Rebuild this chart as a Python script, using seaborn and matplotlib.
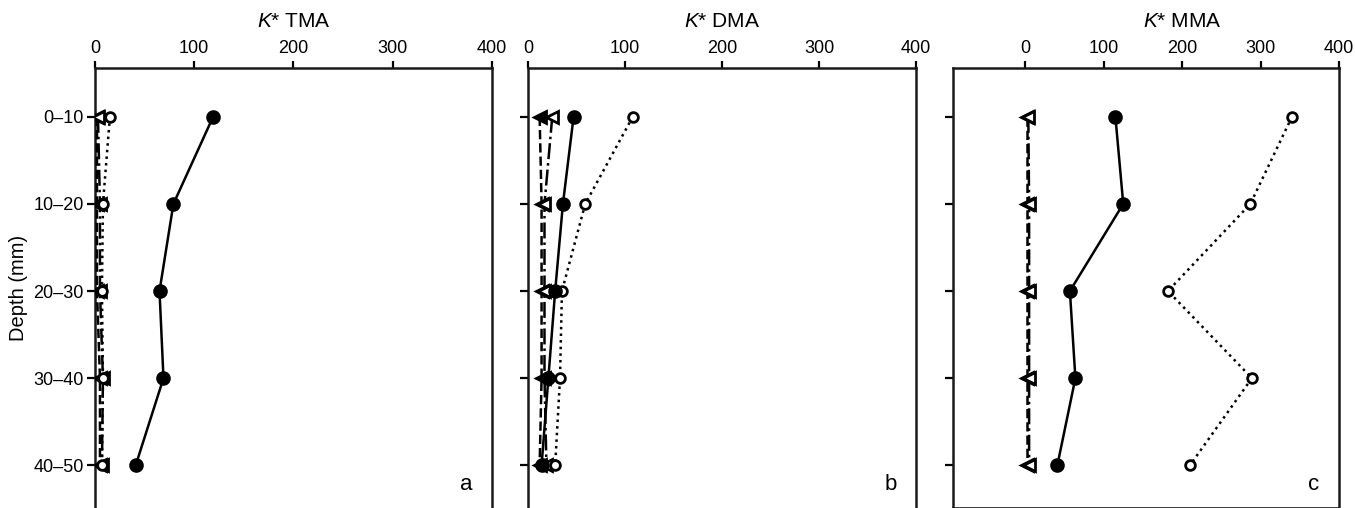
import matplotlib
matplotlib.use("Agg")
import matplotlib.pyplot as plt
import matplotlib.transforms as mtransforms
import numpy as np
import pandas as pd
import seaborn as sns

# Depth layers (y categories) and panels
depths = ["0–10", "10–20", "20–30", "30–40", "40–50"]
panels = ["TMA", "DMA", "MMA"]
panel_tags = ["a", "b", "c"]
x_ticks = [0, 100, 200, 300, 400]

# K* values per depth layer
tma_filled_circle = [119, 79, 65, 69, 41]
tma_open_circle = [15, 8, 7, 8, 7]
tma_filled_tri = [2, 2, 2, 5, 5]
tma_open_tri = [3, 5, 5, 8, 7]

dma_filled_circle = [47, 36, 28, 21, 14]
dma_open_circle = [108, 59, 35, 33, 28]
dma_filled_tri = [12, 14, 14, 14, 12]
dma_open_tri = [25, 17, 17, 17, 19]

mma_filled_circle = [115, 125, 57, 64, 41]
mma_open_circle = [340, 287, 182, 289, 210]
mma_filled_tri = [2, 2, 2, 2, 2]
mma_open_tri = [4, 5, 5, 5, 5]

series_names = ["filled_circle", "open_circle", "filled_tri", "open_tri"]
values = {
    "TMA": [tma_filled_circle, tma_open_circle, tma_filled_tri, tma_open_tri],
    "DMA": [dma_filled_circle, dma_open_circle, dma_filled_tri, dma_open_tri],
    "MMA": [mma_filled_circle, mma_open_circle, mma_filled_tri, mma_open_tri],
}

rows = []
for p in panels:
    for name, vals in zip(series_names, values[p]):
        for i, v in enumerate(vals):
            rows.append({"panel": p, "series": name, "pos": i, "k": v})
df = pd.DataFrame(rows)

styles = {
    "filled_tri": dict(marker="<", ls="--", markerfacecolor="black", ms=8, zorder=3),
    "open_tri": dict(marker="<", ls="-.", markerfacecolor="white", ms=8, zorder=3),
    "open_circle": dict(marker="o", ls=":", markerfacecolor="white", ms=7, zorder=4),
    "filled_circle": dict(marker="o", ls="-", markerfacecolor="black", ms=8.5, zorder=5),
}

sns.set_theme(style="ticks")
plt.rcParams["font.family"] = ["Liberation Sans", "DejaVu Sans"]
plt.rcParams["mathtext.fontset"] = "custom"
plt.rcParams["mathtext.it"] = "Liberation Sans:italic"
plt.rcParams["mathtext.rm"] = "Liberation Sans"
for key in ["text.color", "axes.labelcolor", "xtick.color", "ytick.color"]:
    plt.rcParams[key] = "black"

fig = plt.figure(figsize=(13.55, 5.08), dpi=100)
W, H = 1355, 508
top_px, bot_px = 68, 508
boxes = [(95, 492), (528, 916), (953, 1339)]
xlims = [(0, 400), (0, 400), (-92, 400)]

for k, p in enumerate(panels):
    l, r = boxes[k]
    ax = fig.add_axes([l / W, 1 - bot_px / H, (r - l) / W, (bot_px - top_px) / H])
    for name in ["filled_tri", "open_tri", "open_circle", "filled_circle"]:
        sub = df[(df.panel == p) & (df.series == name)]
        st = styles[name]
        sns.lineplot(
            data=sub, x="k", y="pos", sort=False, estimator=None, ax=ax,
            color="black", lw=1.8, linestyle=st["ls"], marker=st["marker"],
            markersize=st["ms"], markerfacecolor=st["markerfacecolor"],
            markeredgecolor="black", markeredgewidth=2, zorder=st["zorder"],
        )
    ax.set_xlim(*xlims[k])
    ax.set_ylim(4.49, -0.56)
    ax.set_xticks(x_ticks)
    ax.set_yticks(range(len(depths)))
    if k == 0:
        ax.set_yticklabels(depths)
        ax.set_ylabel("Depth (mm)", fontsize=14.5, labelpad=4)
    else:
        ax.set_yticklabels([])
        ax.set_ylabel("")
    ax.set_xlabel("")
    ax.xaxis.tick_top()
    ax.tick_params(axis="x", top=True, bottom=False, labeltop=True, labelbottom=False,
                   direction="out", length=5, width=1.6, labelsize=13, pad=3)
    ax.tick_params(axis="y", left=True, right=False, direction="out", length=6,
                   width=1.6, labelsize=13, pad=2)
    for s in ax.spines.values():
        s.set_linewidth(1.8)
        s.set_color("#1a1a1a")
    if k < 2:
        ax.spines["bottom"].set_visible(False)
    else:
        ax.spines["bottom"].set_linewidth(1.2)
    trans = mtransforms.blended_transform_factory(ax.transData, ax.transAxes)
    ax.text(200, 1.105, f"$K$* {p}", transform=trans, ha="center", va="center",
            fontsize=15)
    ax.text(0.95, 0.03, panel_tags[k], transform=ax.transAxes, ha="right",
            va="bottom", fontsize=16)

fig.savefig("out.png", dpi=100)
